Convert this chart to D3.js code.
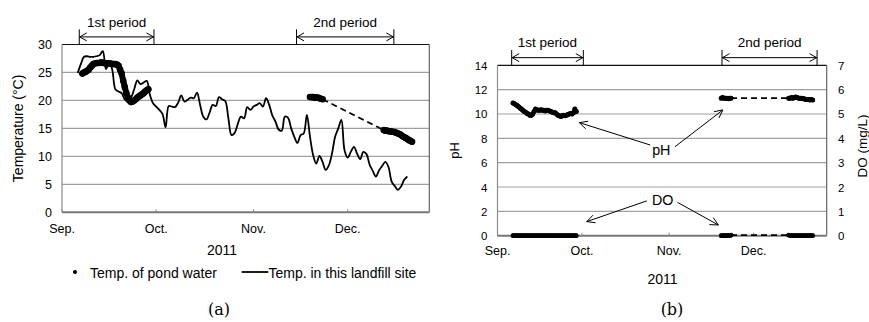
<!DOCTYPE html>
<html>
<head>
<meta charset="utf-8">
<script src="https://cdn.jsdelivr.net/npm/d3@7"></script>
<style>
body { margin: 0; background: #fff; }
text { font-family: "Liberation Sans", Arial, sans-serif; fill: #000; }
</style>
</head>
<body>
<svg id="chart" width="869" height="322"></svg>
<script>
// ---- data ----
var monthTicks = ["2011-09-01 00", "2011-10-01 00", "2011-11-01 00", "2011-12-01 00"];
var monthLabels = ["Sep.", "Oct.", "Nov.", "Dec."];
var axisRange = ["2011-09-01 00", "2011-12-27 00"];
var tempTicks = [0, 5, 10, 15, 20, 25, 30];
var phTicks = [0, 2, 4, 6, 8, 10, 12, 14];
var doTicks = [0, 1, 2, 3, 4, 5, 6, 7];

// daily temperature in the landfill site, from Sep 6
var airStart = "2011-09-06 00";
var airTemp = [24.9, 26.5, 27.8, 27.9, 27.8, 27.8, 27.9, 28.1, 28.8, 25.6,
  26.8, 25.5, 22.0, 21.6, 21.3, 20.2, 19.8, 20.5, 22.0, 23.6,
  22.9, 23.2, 23.5, 21.0, 19.5, 18.9, 18.3, 17.6, 15.2, 19.0,
  18.9, 18.8, 19.6, 20.9, 19.8, 20.1, 20.5, 20.4, 21.4, 19.2,
  17.1, 16.6, 17.8, 19.2, 19.0, 20.6, 20.2, 19.9, 16.8, 13.8,
  14.2, 15.8, 17.1, 16.8, 18.8, 18.3, 18.9, 19.2, 19.5, 18.9,
  20.4, 19.2, 17.3, 16.2, 14.8, 14.6, 17.1, 16.9, 15.0, 13.5,
  12.4, 13.8, 14.1, 17.4, 13.5, 10.2, 8.7, 10.1, 9.0, 7.6,
  8.4, 10.5, 13.5, 15.0, 16.5, 11.1, 9.8, 10.8, 11.7, 10.5,
  9.5, 10.8, 10.4, 8.5, 7.4, 6.4, 7.5, 8.3, 9.0, 8.1,
  5.5, 4.7, 4.0, 4.6, 5.8, 6.4];

// pond water temperature, every 12 h
var pond1Start = "2011-09-07 12";
var pond1Temp = [24.8, 25.0, 25.1, 25.3, 25.5, 25.9, 26.2, 26.5, 26.6, 26.7,
  26.7, 26.7, 26.8, 26.7, 26.7, 26.6, 26.6, 26.6, 26.6, 26.5,
  26.5, 26.5, 26.4, 26.2, 25.5, 24.8, 23.5, 22.4, 21.3, 20.5,
  20.0, 19.7, 19.8, 20.0, 20.2, 20.5, 20.7, 20.9, 21.1, 21.3,
  21.6, 21.8, 22.0];
var pond2Start = "2011-11-19 00";
var pond2Temp = [20.6, 20.6, 20.6, 20.5, 20.5, 20.5, 20.4, 20.3, 20.2];
var pond3Start = "2011-12-12 12";
var pond3Temp = [14.7, 14.6, 14.6, 14.5, 14.5, 14.4, 14.4, 14.3, 14.2, 14.1,
  14.0, 13.8, 13.6, 13.4, 13.3, 13.1, 12.9, 12.8, 12.6];

// pond pH and DO, every 12 h
var wq1Start = "2011-09-06 12";
var ph1 = [10.9, 10.85, 10.75, 10.7, 10.6, 10.5, 10.4, 10.3, 10.2, 10.15,
  10.05, 10.0, 9.9, 9.9, 10.0, 10.2, 10.4, 10.35, 10.3, 10.3,
  10.35, 10.3, 10.3, 10.25, 10.3, 10.3, 10.25, 10.2, 10.15, 10.1,
  10.1, 10.0, 9.9, 9.85, 9.8, 9.85, 9.9, 9.85, 9.9, 9.95,
  10.0, 10.05, 10.0, 10.1, 10.4, 10.2];
var do1 = [0, 0, 0, 0, 0, 0, 0, 0, 0, 0, 0, 0, 0, 0, 0, 0, 0, 0, 0, 0, 0, 0, 0,
  0, 0, 0, 0, 0, 0, 0, 0, 0, 0, 0, 0, 0, 0, 0, 0, 0, 0, 0, 0, 0, 0, 0];
var wq2Start = "2011-11-19 12";
var ph2 = [11.3, 11.35, 11.3, 11.3, 11.3, 11.25, 11.3, 11.3];
var do2 = [0, 0, 0, 0, 0, 0, 0, 0.02];
var wq3Start = "2011-12-13 12";
var ph3 = [11.3, 11.3, 11.35, 11.3, 11.35, 11.4, 11.35, 11.3, 11.3, 11.3,
  11.25, 11.25, 11.2, 11.2, 11.2, 11.15, 11.2, 11.15];
var do3 = [0.02, 0.01, 0, 0, 0, 0, 0, 0, 0, 0, 0, 0, 0, 0, 0, 0, 0, 0];

// measuring periods marked above each panel
var periodsA = [["1st period", "2011-09-06 12", "2011-09-30 07"], ["2nd period", "2011-11-14 17", "2011-12-15 17"]];
var periodsB = [["1st period", "2011-09-06 01", "2011-10-01 12"], ["2nd period", "2011-11-19 19", "2011-12-23 14"]];

// ---- helpers ----
var parseT = d3.utcParse("%Y-%m-%d %H");
function series(start, stepH, values) {
  var t0 = parseT(start);
  return values.map(function (v, i) { return { date: d3.utcHour.offset(t0, i * stepH), value: v }; });
}

var svg = d3.select("#chart");

function arrowHead(g, x1, y1, x2, y2, len, half) {
  var a = Math.atan2(y2 - y1, x2 - x1);
  var bx = x2 - len * Math.cos(a), by = y2 - len * Math.sin(a);
  var px = -Math.sin(a) * half, py = Math.cos(a) * half;
  g.append("path")
    .attr("d", "M" + (bx + px) + "," + (by + py) + "L" + x2 + "," + y2 + "L" + (bx - px) + "," + (by - py))
    .attr("fill", "none").attr("stroke", "#000").attr("stroke-width", 1);
}

function frame(g, x, y, yTicks, left, bottom, right, top, tickFont) {
  g.selectAll(".grid").data(yTicks.slice(1, -1)).enter().append("line")
    .attr("x1", left).attr("x2", right)
    .attr("y1", function (d) { return y(d); }).attr("y2", function (d) { return y(d); })
    .attr("stroke", "#a0a0a0").attr("stroke-width", 1.2);
  g.append("line").attr("x1", left).attr("x2", right).attr("y1", top).attr("y2", top)
    .attr("stroke", "#111").attr("stroke-width", 1.2);
  g.append("line").attr("x1", right).attr("x2", right).attr("y1", top).attr("y2", bottom)
    .attr("stroke", "#666").attr("stroke-width", 1.2);
  g.append("line").attr("x1", left).attr("x2", left).attr("y1", top).attr("y2", bottom)
    .attr("stroke", "#8a8a8a").attr("stroke-width", 1.2);
  g.append("line").attr("x1", left).attr("x2", right).attr("y1", bottom).attr("y2", bottom)
    .attr("stroke", "#777").attr("stroke-width", 2);
  g.selectAll(".xt").data(monthTicks).enter().append("line")
    .attr("x1", function (d) { return x(parseT(d)); }).attr("x2", function (d) { return x(parseT(d)); })
    .attr("y1", bottom).attr("y2", bottom - 3)
    .attr("stroke", "#888").attr("stroke-width", 1);
  g.selectAll(".yl").data(yTicks).enter().append("text")
    .attr("x", left - 10).attr("y", function (d) { return y(d) + 4.5; })
    .attr("text-anchor", "end").style("font-size", tickFont + "px")
    .text(function (d) { return d; });
}

function xLabels(g, x, baseline) {
  g.selectAll(".xl").data(monthTicks).enter().append("text")
    .attr("x", function (d) { return x(parseT(d)); }).attr("y", baseline)
    .attr("text-anchor", "middle").style("font-size", "12.5px")
    .text(function (d, i) { return monthLabels[i]; });
}

function periods(g, x, list, yText, yTop, yBot) {
  var yMid = (yTop + yBot) / 2;
  list.forEach(function (p) {
    var a = x(parseT(p[1])), b = x(parseT(p[2]));
    g.append("line").attr("x1", a).attr("x2", a).attr("y1", yTop).attr("y2", yBot).attr("stroke", "#000");
    g.append("line").attr("x1", b).attr("x2", b).attr("y1", yTop).attr("y2", yBot).attr("stroke", "#000");
    g.append("line").attr("x1", a).attr("x2", b).attr("y1", yMid).attr("y2", yMid).attr("stroke", "#000");
    arrowHead(g, b, yMid, a + 0.5, yMid, 7, 4);
    arrowHead(g, a, yMid, b - 0.5, yMid, 7, 4);
    g.append("text").attr("x", (a + b) / 2).attr("y", yText)
      .attr("text-anchor", "middle").style("font-size", "13.5px").text(p[0]);
  });
}

// dense markers: dots plus a band joining them, as the logged points merge
function dots(g, data, x, y, r) {
  var gg = g.append("g");
  gg.append("path").datum(data)
    .attr("d", d3.line().x(function (d) { return x(d.date); }).y(function (d) { return y(d.value); }))
    .attr("fill", "none").attr("stroke", "#000").attr("stroke-width", r * 1.8)
    .attr("stroke-linecap", "round").attr("stroke-linejoin", "round");
  gg.selectAll("circle").data(data).enter().append("circle")
    .attr("cx", function (d) { return x(d.date); })
    .attr("cy", function (d) { return y(d.value); })
    .attr("r", r).attr("fill", "#000");
}

function dashLink(g, a, b, x, y) {
  g.append("line")
    .attr("x1", x(a.date)).attr("y1", y(a.value))
    .attr("x2", x(b.date)).attr("y2", y(b.value))
    .attr("stroke", "#000").attr("stroke-width", 1.8).attr("stroke-dasharray", "6,4");
}

// ---- panel (a): temperature ----
var gA = svg.append("g");
var xA = d3.scaleUtc().domain(axisRange.map(parseT)).range([62, 429.3]);
var yA = d3.scaleLinear().domain([0, 30]).range([212.3, 44.5]);
frame(gA, xA, yA, tempTicks, 62, 212.3, 429.3, 44.5, 12.5);
xLabels(gA, xA, 233);

var air = series(airStart, 24, airTemp);
gA.append("path").datum(air)
  .attr("d", d3.line().x(function (d) { return xA(d.date); }).y(function (d) { return yA(d.value); })
    .curve(d3.curveCatmullRom.alpha(0.5)))
  .attr("fill", "none").attr("stroke", "#000").attr("stroke-width", 1.8).attr("stroke-linejoin", "round");

var pond1 = series(pond1Start, 12, pond1Temp);
var pond2 = series(pond2Start, 12, pond2Temp);
var pond3 = series(pond3Start, 12, pond3Temp);
dashLink(gA, pond2[pond2.length - 1], pond3[0], xA, yA);
dots(gA, pond1, xA, yA, 3.3);
dots(gA, pond2, xA, yA, 3.3);
dots(gA, pond3, xA, yA, 3.3);

periods(gA, xA, periodsA, 27, 29.3, 44.5);

gA.append("text").attr("transform", "translate(23,128.4) rotate(-90)")
  .attr("text-anchor", "middle").style("font-size", "14px").text("Temperature (\u00B0C)");
gA.append("text").attr("x", 222).attr("y", 255).attr("text-anchor", "middle")
  .style("font-size", "14px").text("2011");

// legend
gA.append("circle").attr("cx", 75).attr("cy", 272).attr("r", 2).attr("fill", "#000");
gA.append("text").attr("x", 90).attr("y", 277.5).style("font-size", "14px").text("Temp. of pond water");
gA.append("line").attr("x1", 241.7).attr("x2", 268.3).attr("y1", 272).attr("y2", 272)
  .attr("stroke", "#000").attr("stroke-width", 1.8);
gA.append("text").attr("x", 268.5).attr("y", 277.5).style("font-size", "14px").text("Temp. in this landfill site");

// ---- panel (b): pH and DO ----
var gB = svg.append("g");
var xB = d3.scaleUtc().domain(axisRange.map(parseT)).range([497.5, 826.7]);
var yPH = d3.scaleLinear().domain([0, 14]).range([235.7, 65.3]);
var yDO = d3.scaleLinear().domain([0, 7]).range([235.7, 65.3]);
frame(gB, xB, yPH, phTicks, 497.5, 235.7, 826.7, 65.3, 11.5);
gB.selectAll(".yr").data(doTicks).enter().append("text")
  .attr("x", 838).attr("y", function (d) { return yDO(d) + 4.5; })
  .style("font-size", "11.5px").text(function (d) { return d; });
xLabels(gB, xB, 254.5);

var phS1 = series(wq1Start, 12, ph1), phS2 = series(wq2Start, 12, ph2), phS3 = series(wq3Start, 12, ph3);
var doS1 = series(wq1Start, 12, do1), doS2 = series(wq2Start, 12, do2), doS3 = series(wq3Start, 12, do3);
dashLink(gB, phS2[phS2.length - 1], phS3[0], xB, yPH);
dashLink(gB, doS2[doS2.length - 1], doS3[0], xB, yDO);
[phS1, phS2, phS3].forEach(function (s) { dots(gB, s, xB, yPH, 2.5); });
[doS1, doS2, doS3].forEach(function (s) { dots(gB, s, xB, yDO, 2.4); });

periods(gB, xB, periodsB, 47, 50, 65.3);

// callouts
var dayT = function (s) { return xB(parseT(s)); };
gB.append("text").attr("x", dayT("2011-10-29 05")).attr("y", yPH(6.63))
  .attr("text-anchor", "middle").style("font-size", "14.3px").text("pH");
[["2011-10-25 07", 7.45, "2011-09-30 02", 9.29], ["2011-11-03 02", 7.31, "2011-11-20 02", 10.33]].forEach(function (a) {
  var x1 = dayT(a[0]), y1 = yPH(a[1]), x2 = dayT(a[2]), y2 = yPH(a[3]);
  gB.append("line").attr("x1", x1).attr("y1", y1).attr("x2", x2).attr("y2", y2).attr("stroke", "#000");
  arrowHead(gB, x1, y1, x2, y2, 8, 4);
});
gB.append("text").attr("x", dayT("2011-10-29 17")).attr("y", yDO(1.26))
  .attr("text-anchor", "middle").style("font-size", "14.3px").text("DO");
[["2011-10-24 02", 1.43, "2011-10-02 17", 0.58], ["2011-11-03 23", 1.37, "2011-11-18 12", 0.44]].forEach(function (a) {
  var x1 = dayT(a[0]), y1 = yDO(a[1]), x2 = dayT(a[2]), y2 = yDO(a[3]);
  gB.append("line").attr("x1", x1).attr("y1", y1).attr("x2", x2).attr("y2", y2).attr("stroke", "#000");
  arrowHead(gB, x1, y1, x2, y2, 8, 4);
});

gB.append("text").attr("transform", "translate(459,150.5) rotate(-90)")
  .attr("text-anchor", "middle").style("font-size", "13px").text("pH");
gB.append("text").attr("transform", "translate(867,146) rotate(-90)")
  .attr("text-anchor", "middle").style("font-size", "13.5px").text("DO (mg/L)");
gB.append("text").attr("x", 662.5).attr("y", 283.5).attr("text-anchor", "middle")
  .style("font-size", "14px").text("2011");

// panel letters
svg.append("text").attr("x", 219).attr("y", 315).attr("text-anchor", "middle")
  .style("font-family", "'DejaVu Serif', serif").style("font-size", "16px").text("(a)");
svg.append("text").attr("x", 672).attr("y", 315).attr("text-anchor", "middle")
  .style("font-family", "'DejaVu Serif', serif").style("font-size", "16px").text("(b)");
</script>
</body>
</html>
